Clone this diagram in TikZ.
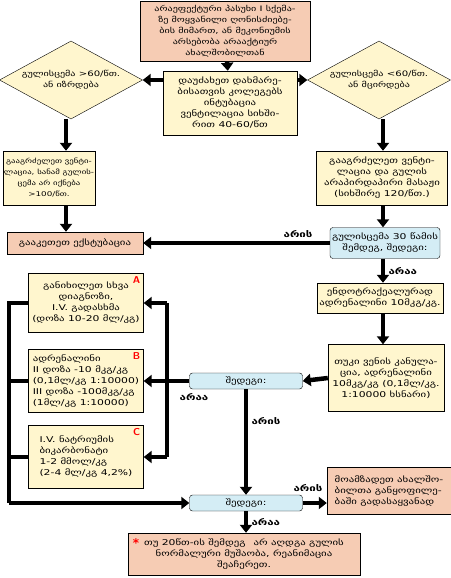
\documentclass[tikz,border=0pt]{standalone}
\usepackage{fontspec}
\setmainfont{DejaVu Sans}
\newfontfamily\geo{DejaVu Sans}[FakeStretch=1.35]
\usetikzlibrary{shapes.geometric,arrows.meta}
\definecolor{salmon}{RGB}{246,204,180}
\definecolor{cream}{RGB}{255,246,206}
\definecolor{icy}{RGB}{212,237,245}
\tikzset{
  box/.style={draw, fill=cream, align=center, inner sep=1pt, font=\geo\fontsize{8}{11}\selectfont},
  warm/.style={box, fill=salmon},
  ask/.style={box, fill=icy, rounded corners=3pt},
  choice/.style={diamond, draw, fill=cream, inner sep=0pt, minimum width=143pt, minimum height=78pt},
  clue/.style={align=center, inner sep=0pt, font=\geo\fontsize{7.5}{11}\selectfont},
  flow/.style={line width=4.5pt, -{Triangle[width=12pt,length=8pt]}},
  bar/.style={line width=4.5pt},
  answer/.style={font=\geo\bfseries\fontsize{8.5}{8.5}\selectfont},
  tag/.style={text=red, font=\sffamily\bfseries\fontsize{10}{10}\selectfont}
}
\begin{document}
\begin{tikzpicture}[x=1pt,y=-1pt]
  \useasboundingbox (0,0) rectangle (450,578);
  \node[warm, minimum width=170pt, minimum height=60pt, font=\geo\fontsize{7.5}{11}\selectfont] (start) at (225,31) {არაეფექტური პასუხი I სქემა-\\ზე მოყვანილი ღონისძიებე-\\ბის მიმართ, ან მეკონიუმის\\არსებობა არააქტიურ\\ახალშობილთან};
  \node[box, minimum width=134pt, minimum height=64pt] (call) at (230,103) {დაუძახეთ დახმარე-\\ბისათვის კოლეგებს\\ინტუბაცია\\ვენტილაცია სიხში-\\რით 40-60/წთ};
  \node[choice, label={[clue]center:{გულისცემა >60/წთ.\\ან იზრდება}}] (hrup) at (71,80) {};
  \node[choice, label={[clue]center:{გულისცემა <60/წთ.\\ან მცირდება}}] (hrdown) at (379,80) {};
  \node[box, minimum width=84pt, minimum height=54pt, font=\geo\fontsize{6.5}{11}\selectfont] (keep) at (49,178) {გააგრძელეთ ვენტი-\\ლაცია, სანამ გულის-\\ცემა არ იქნება\\>100/წთ.};
  \node[warm, minimum width=136pt, minimum height=22pt] (extub) at (75,243) {გააკეთეთ ექსტუბაცია};
  \node[box, minimum width=131pt, minimum height=54pt] (massage) at (382,178) {გააგრძელეთ ვენტი-\\ლაცია და გულის\\არაპირდაპირი მასაჟი\\(სიხშირე 120/წთ.)};
  \node[ask, minimum width=110pt, minimum height=31pt] (hr30) at (385,243) {გულისცემა 30 წამის\\შემდეგ, შედეგი:};
  \node[box, minimum width=126pt, minimum height=30pt] (tracheal) at (380,298) {ენდოტრაქეალურად\\ადრენალინი 10მკგ/კგ.};
  \node[box, minimum width=116pt, minimum height=67pt] (vein) at (386,378) {თუკი ვენის კანულა-\\ცია, ადრენალინი\\10მკგ/კგ (0,1მლ/კგ.\\1:10000 ხსნარი)};
  \node[ask, minimum width=113pt, minimum height=16pt] (check) at (246,381) {შედეგი:};
  \node[box, minimum width=115pt, minimum height=59pt] (optA) at (86,303) {განიხილეთ სხვა\\დიაგნოზი,\\I.V. გადასხმა\\(დოზა 10-20 მლ/კგ)};
  \node[box, minimum width=115pt, minimum height=63pt, align=left] (optB) at (86,381) {ადრენალინი\\II დოზა -10 მკგ/კგ\\(0,1მლ/კგ 1:10000)\\III დოზა -100მკგ/კგ\\(1მლ/კგ 1:10000)};
  \node[box, minimum width=115pt, minimum height=63pt, align=left] (optC) at (86,457) {I.V. ნატრიუმის\\ბიკარბონატი\\1-2 მმოლ/კგ\\(2-4 მლ/კგ 4,2\%)};
  \node[tag, anchor=north east] at (optA.north east) {A};
  \node[tag, anchor=north east] at (optB.north east) {B};
  \node[tag, anchor=north east] at (optC.north east) {C};
  \node[ask, minimum width=113pt, minimum height=16pt] (recheck) at (246,503) {შედეგი:};
  \node[warm, minimum width=124pt, minimum height=47pt, align=left] (transfer) at (389,491) {მოამზადეთ ახალშო-\\ბილთა განყოფილე-\\ბაში გადასაყვანად};
  \node[warm, minimum width=232pt, minimum height=42pt] (stop) at (244,554) {თუ 20წთ-ის შემდეგ\quad არ აღდგა გულის\\ნორმალური მუშაობა, რეანიმაცია\\შეაჩერეთ.};
  \node[text=red, font=\bfseries\fontsize{12}{12}\selectfont] at (136,543) {*};
  \coordinate (lbar) at (9,0);
  \coordinate (rbar) at (167,0);

  \draw[flow] (start) -- (call);
  \draw[flow] (call.west |- hrup.east) -- (hrup.east);
  \draw[flow] (call.east |- hrdown.east) -- (hrdown.west);
  \draw[flow] (hrup.south -| 66,0) -- (keep.north -| 66,0);
  \draw[flow] (keep.south -| 66,0) -- (extub.north -| 66,0);
  \draw[flow] (hrdown.south -| 383,0) -- (massage.north -| 383,0);
  \draw[flow] (massage.south -| 383,0) -- (hr30.north -| 383,0);
  \draw[flow] (hr30.west) -- (extub.east) node[pos=0.17, above, answer]{არის};
  \draw[flow] (hr30.south -| 383,0) -- (tracheal.north -| 383,0) node[midway, right, answer]{არაა};
  \draw[flow] (tracheal.south -| 383,0) -- (vein.north -| 383,0);
  \draw[flow] (vein.west) -- (check.east);
  \draw[bar] (check.west) -- (check.west -| rbar);
  \draw[bar] (optA.east -| rbar) -- (optC.east -| rbar);
  \draw[flow] (optA.east -| rbar) -- (optA.east);
  \draw[flow] (optB.east -| rbar) -- (optB.east);
  \draw[flow] (optC.east -| rbar) -- (optC.east);
  \node[answer] at (194,397) {არაა};
  \draw[bar] (optA.west) -- (optA.west -| lbar) -- (recheck.west -| lbar);
  \draw[bar] (optB.west) -- (optB.west -| lbar);
  \draw[bar] (optC.west) -- (optC.west -| lbar);
  \draw[flow] (recheck.west -| lbar) -- (recheck.west);
  \draw[flow] (check.south) -- (recheck.north) node[pos=0.3, right, answer]{არის};
  \draw[flow] (recheck.east) -- (transfer.west |- recheck.east);
  \node[answer] at (308,488) {არის};
  \draw[flow] (recheck.south) -- (stop.north -| recheck.south) node[midway, right, answer]{არაა};
\end{tikzpicture}
\end{document}
